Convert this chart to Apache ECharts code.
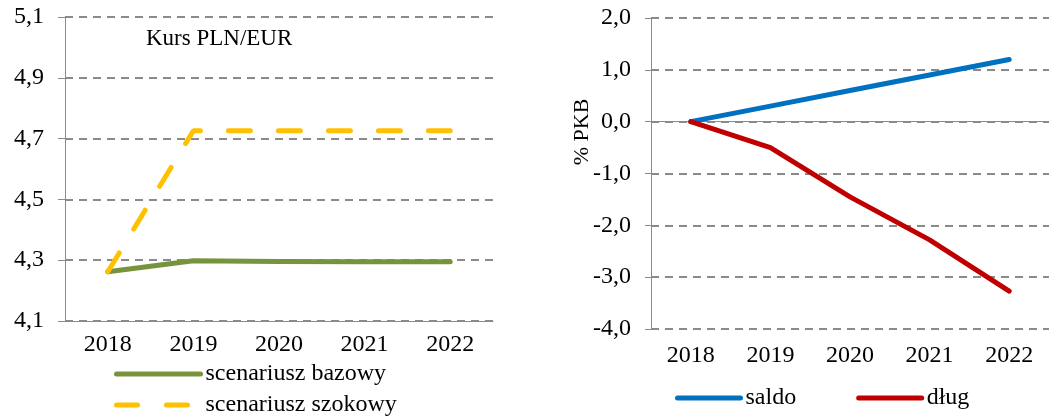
<!DOCTYPE html>
<html>
<head>
<meta charset="utf-8">
<script src="https://cdn.jsdelivr.net/npm/echarts@6/dist/echarts.min.js"></script>
<style>
	html, body { margin: 0; padding: 0; background: #fff; }
	#main { width: 1049px; height: 417px; }
</style>
</head>
<body>
<div id="main"></div>
<script>
var lata = ['2018', '2019', '2020', '2021', '2022'];
var bazowy = [4.262, 4.298, 4.296, 4.295, 4.295];
var szokowy = [4.262, 4.726, 4.726, 4.726, 4.726];
var saldo = [0, 0.3, 0.6, 0.9, 1.2];
var dlug = [0, -0.5, -1.45, -2.28, -3.27];

var FONT = 'Liberation Serif';
var GRID_COLOR = '#8a8a8a';
var TXT = { fontFamily : FONT, fontSize : 24, color : '#000' };

function przecinek(v) {
	return v.toFixed(1).replace('.', ',');
}

// jedna legenda na pozycje, bez kolka symbolu
function legenda(nazwa, left, top, szer, linia) {
	return {
		left : left,
		top : top,
		itemWidth : szer,
		itemHeight : 14,
		itemStyle : { opacity : 0 },
		lineStyle : linia,
		textStyle : TXT,
		data : nazwa
	};
}

var myChart = echarts.init(document.getElementById('main'));
var option = {
	animation : false,
	title : {
		text : 'Kurs PLN/EUR',
		left : 141,
		top : 22,
		textStyle : {
			fontFamily : FONT,
			fontWeight : 'normal',
			fontSize : 23,
			color : '#000'
		}
	},
	legend : [
		legenda([ 'scenariusz bazowy' ], 109, 357, 84, { width : 5, cap : 'round' }),
		legenda([ 'scenariusz szokowy' ], 109, 388, 84, { width : 5, cap : 'round', type : [ 21, 29 ] }),
		{
			left : 670,
			top : 381,
			itemWidth : 63,
			itemHeight : 14,
			itemGap : 60,
			itemStyle : { opacity : 0 },
			lineStyle : { width : 5, cap : 'round' },
			textStyle : TXT,
			data : [ 'saldo', 'dług' ]
		}
	],
	graphic : [ {
		type : 'text',
		x : 582,
		y : 132,
		rotation : Math.PI / 2,
		style : {
			text : '% PKB',
			fontFamily : FONT,
			fontSize : 22,
			fill : '#000',
			align : 'center',
			verticalAlign : 'middle'
		}
	} ],
	grid : [
		{ left : 65, top : 17, width : 428, height : 304 },
		{ left : 651, top : 18, width : 407, height : 311 }
	],
	xAxis : [ {
		gridIndex : 0,
		type : 'category',
		data : lata,
		boundaryGap : true,
		axisLine : { onZero : false, lineStyle : { color : GRID_COLOR, width : 1 } },
		axisTick : { length : 6, lineStyle : { color : GRID_COLOR } },
		axisLabel : { margin : 12, fontFamily : FONT, fontSize : 24, color : '#000' }
	}, {
		// podpisy lat na dole prawego wykresu
		gridIndex : 1,
		type : 'category',
		data : lata,
		position : 'bottom',
		axisLine : { show : false, onZero : false },
		axisTick : { show : false },
		axisLabel : { margin : 15, fontFamily : FONT, fontSize : 24, color : '#000' }
	}, {
		// os na poziomie zera
		gridIndex : 1,
		type : 'category',
		data : lata,
		position : 'top',
		axisLine : { onZero : true, lineStyle : { color : GRID_COLOR, width : 1 } },
		axisTick : { inside : true, length : 5, lineStyle : { color : GRID_COLOR } },
		axisLabel : { show : false }
	} ],
	yAxis : [ {
		gridIndex : 0,
		type : 'value',
		min : 4.1,
		max : 5.1,
		interval : 0.2,
		axisLine : { show : true, lineStyle : { color : GRID_COLOR, width : 1 } },
		axisTick : { show : true, length : 7, lineStyle : { color : GRID_COLOR } },
		axisLabel : { margin : 21, fontFamily : FONT, fontSize : 24, color : '#000', formatter : przecinek },
		splitLine : { lineStyle : { color : GRID_COLOR, width : 2, type : [ 8, 6 ] } }
	}, {
		gridIndex : 1,
		type : 'value',
		min : -4,
		max : 2,
		interval : 1,
		axisLine : { show : true, lineStyle : { color : GRID_COLOR, width : 1 } },
		axisTick : { show : true, length : 6, lineStyle : { color : GRID_COLOR } },
		axisLabel : { margin : 20, fontFamily : FONT, fontSize : 24, color : '#000', formatter : przecinek },
		splitLine : { lineStyle : { color : GRID_COLOR, width : 2, type : [ 8, 6 ] } }
	} ],
	series : [ {
		name : 'scenariusz bazowy',
		type : 'line',
		xAxisIndex : 0,
		yAxisIndex : 0,
		data : bazowy,
		symbol : 'none',
		color : '#77933C',
		lineStyle : { width : 5, cap : 'round', join : 'round' }
	}, {
		name : 'scenariusz szokowy',
		type : 'line',
		xAxisIndex : 0,
		yAxisIndex : 0,
		data : szokowy,
		symbol : 'none',
		color : '#FFC000',
		lineStyle : { width : 5, cap : 'round', type : [ 22, 28 ] }
	}, {
		name : 'saldo',
		type : 'line',
		xAxisIndex : 1,
		yAxisIndex : 1,
		data : saldo,
		symbol : 'none',
		color : '#0070C0',
		lineStyle : { width : 5, cap : 'round', join : 'round' }
	}, {
		name : 'dług',
		type : 'line',
		xAxisIndex : 1,
		yAxisIndex : 1,
		data : dlug,
		symbol : 'none',
		color : '#C00000',
		lineStyle : { width : 5, cap : 'round', join : 'round' }
	} ]
};

myChart.setOption(option);
</script>
</body>
</html>
